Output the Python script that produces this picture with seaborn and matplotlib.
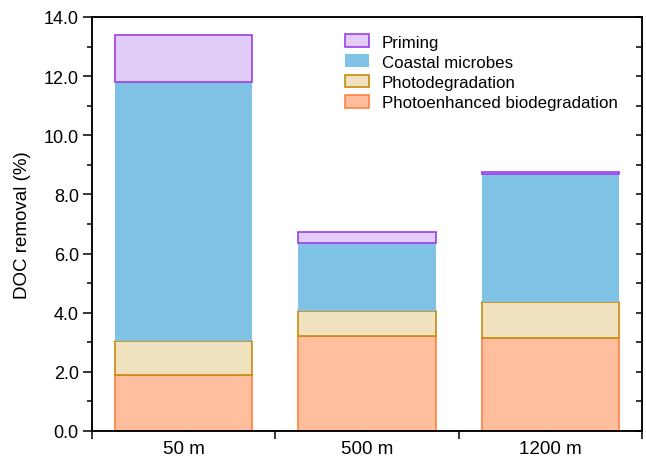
import matplotlib
matplotlib.use("Agg")
import matplotlib.pyplot as plt
import seaborn as sns
import numpy as np
import pandas as pd
from matplotlib.patches import Patch
from matplotlib.ticker import MultipleLocator, FormatStrFormatter

sns.set_style("white")
plt.rcParams['font.family'] = ['Liberation Sans', 'DejaVu Sans']
plt.rcParams.update({"text.color": "black", "axes.labelcolor": "black",
                     "xtick.color": "black", "ytick.color": "black"})

categories = ["50 m", "500 m", "1200 m"]
layers = ["Photoenhanced biodegradation", "Photodegradation", "Coastal microbes", "Priming"]
photoenhanced = [1.89, 3.20, 3.14]
photodegradation = [1.15, 0.85, 1.23]
coastal = [8.76, 2.30, 4.33]
priming = [1.59, 0.38, 0.05]
values = [photoenhanced, photodegradation, coastal, priming]

fills = ["#FFBF9F", "#F0E1BF", "#80C2E6", "#E2CCF8"]
edges = ["#FF8040", "#C98A0E", "#80C2E6", "#9B3FE8"]

fig = plt.figure(figsize=(6.46, 4.60), dpi=100)
ax = fig.add_axes([0.1424, 0.0609, 0.8514, 0.9])

bottom = np.zeros(len(categories))
for name, vals, fc, ec in zip(layers, values, fills, edges):
    df = pd.DataFrame({"site": categories, "val": vals})
    sns.barplot(data=df, x="site", y="val", order=categories, ax=ax,
                color=fc, saturation=1, width=0.75, bottom=bottom,
                edgecolor=ec, linewidth=1.2 if ec != "#80C2E6" else 0)
    bottom = bottom + np.array(vals)

ax.set_xlim(-0.5, 2.5)
ax.set_ylim(0, 14)
ax.set_xlabel("")
ax.set_ylabel("DOC removal (%)", fontsize=13.5, labelpad=9, color="black")

ax.yaxis.set_major_locator(MultipleLocator(2))
ax.yaxis.set_minor_locator(MultipleLocator(1))
ax.yaxis.set_major_formatter(FormatStrFormatter("%.1f"))
ax.tick_params(axis='y', which='major', direction='out', length=6.5, width=1.1,
               labelsize=13, pad=3, left=True, right=False, colors="black")
ax.tick_params(axis='y', which='minor', direction='out', length=3.4, width=1.1,
               left=True, right=False, colors="black")

ax.set_xticks([-0.5, 0.5, 1.5, 2.5])
ax.set_xticklabels([])
ax.set_xticks([0, 1, 2], labels=categories, minor=True)
ax.tick_params(axis='x', which='major', direction='out', length=6, width=1.1,
               bottom=True, colors="black")
ax.tick_params(axis='x', which='minor', direction='in', length=2, width=0.8,
               labelsize=13.5, pad=6.5, bottom=True, colors="black")

ax2 = ax.twinx()
ax2.set_ylim(0, 14)
ax2.yaxis.set_major_locator(MultipleLocator(2))
ax2.yaxis.set_minor_locator(MultipleLocator(1))
ax2.tick_params(axis='y', which='both', direction='in', length=4, width=1.1,
                labelright=False, colors="black")

for a in (ax, ax2):
    for s in a.spines.values():
        s.set_visible(True)
        s.set_color("black")
        s.set_linewidth(1.1)

handles = [Patch(facecolor=fc, edgecolor=ec, linewidth=1.2 if ec != "#80C2E6" else 0, label=name)
           for name, fc, ec in zip(layers, fills, edges)][::-1]
leg = ax.legend(handles=handles, loc="upper left", bbox_to_anchor=(0.432, 0.995),
                frameon=False, fontsize=12.2, labelspacing=0.28, handlelength=1.4,
                handleheight=0.8, handletextpad=0.8)
for t in leg.get_texts():
    t.set_color("black")

fig.savefig("out.png", dpi=100)
